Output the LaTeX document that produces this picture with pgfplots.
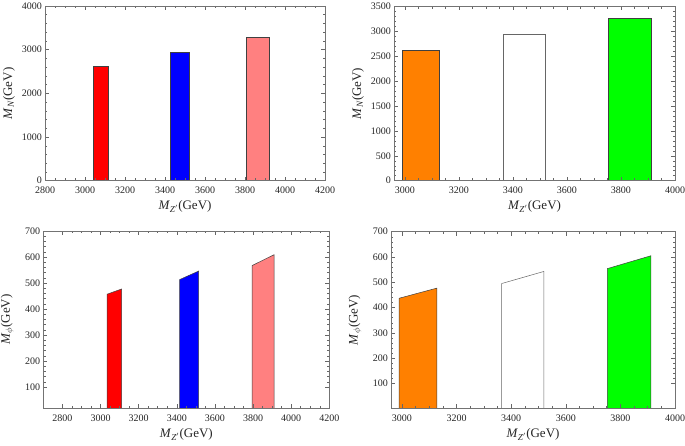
\documentclass[border=0pt]{standalone}
\usepackage{fontspec}
\setmainfont{Liberation Serif}
\usepackage{pgfplots}
\pgfplotsset{compat=1.18}
\definecolor{pinkbar}{RGB}{255,128,128}
\definecolor{orangebar}{RGB}{255,128,0}
\definecolor{greenbar}{RGB}{0,255,0}
\pgfplotsset{
  mma/.style={
    scale only axis, anchor=south west,
    axis line style={black!55, line width=0.6bp},
    tick style={black!60, line width=0.5bp},
    major tick length=4bp, minor tick length=2.2bp,
    tick align=inside,
    axis on top,
    clip=true,
    scaled ticks=false,
    tick label style={font=\fontsize{10bp}{12bp}\selectfont, text=black!85, inner sep=0bp},
    x tick label style={yshift=-6bp},
    y tick label style={xshift=-3bp},
    /pgf/number format/assume math mode=true,
    /pgf/number format/1000 sep={},
    label style={font=\fontsize{13bp}{15bp}\selectfont, text=black!85},
    xlabel style={at={([yshift=-26bp]axis description cs:0.5,0)}, anchor=center},
    ylabel style={at={([xshift=-36bp]axis description cs:0,0.5)}, anchor=center, rotate=0},
    minor x tick num=3, minor y tick num=4,
  },
  bar/.style={draw=black!75, line width=0.5bp},
}
\begin{document}
\begin{tikzpicture}
\useasboundingbox (0,0) rectangle (685bp,446bp);
% top-left
\begin{axis}[mma, at={(45bp,265.3bp)}, width=280bp, height=174.7bp,
  xmin=2800, xmax=4200, ymin=0, ymax=4000,
  xtick={2800,3000,...,4200}, ytick={0,1000,...,4000},
  xlabel={\textit{M}\textsubscript{\textit{Z}$'$}(GeV)},
  ylabel={\textit{M}\textsubscript{\textit{N}}(GeV)}]
\addplot[bar, fill=red] coordinates {(3040,0) (3040,2620) (3116,2620) (3116,0)} -- cycle;
\addplot[bar, fill=blue] coordinates {(3425,0) (3425,2950) (3522,2950) (3522,0)} -- cycle;
\addplot[bar, fill=pinkbar] coordinates {(3808,0) (3808,3290) (3922,3290) (3922,0)} -- cycle;
\end{axis}
% top-right
\begin{axis}[mma, at={(394bp,265.3bp)}, width=281bp, height=174.3bp,
  xmin=2960, xmax=4000, ymin=0, ymax=3500,
  xtick={3000,3200,...,4000}, ytick={0,500,...,3500},
  xlabel={\textit{M}\textsubscript{\textit{Z}$'$}(GeV)},
  ylabel={\textit{M}\textsubscript{\textit{N}}(GeV)}]
\addplot[bar, fill=orangebar] coordinates {(2990,0) (2990,2620) (3128,2620) (3128,0)} -- cycle;
\addplot[bar, fill=white, draw=black!60] coordinates {(3365,0) (3365,2945) (3520,2945) (3520,0)} -- cycle;
\addplot[bar, fill=greenbar] coordinates {(3752,0) (3752,3258) (3912,3258) (3912,0)} -- cycle;
\end{axis}
% bottom-left
\begin{axis}[mma, at={(43.3bp,37.7bp)}, width=286bp, height=177.3bp,
  xmin=2700, xmax=4200, ymin=18, ymax=700,
  xtick={2800,3000,...,4200}, ytick={100,200,...,700},
  xlabel={\textit{M}\textsubscript{\textit{Z}$'$}(GeV)},
  ylabel={\textit{M}\textsubscript{$\phi$}(GeV)}]
\addplot[bar, fill=red] coordinates {(3035,0) (3035,457) (3111,477) (3111,0)} -- cycle;
\addplot[bar, fill=blue] coordinates {(3415,0) (3415,513) (3515,546) (3515,0)} -- cycle;
\addplot[bar, fill=pinkbar] coordinates {(3795,0) (3795,567) (3911,609) (3911,0)} -- cycle;
\end{axis}
% bottom-right
\begin{axis}[mma, at={(391bp,37.7bp)}, width=284bp, height=176.6bp,
  xmin=2960, xmax=4000, ymin=2, ymax=700,
  xtick={3000,3200,...,4000}, ytick={100,200,...,700},
  xlabel={\textit{M}\textsubscript{\textit{Z}$'$}(GeV)},
  ylabel={\textit{M}\textsubscript{$\phi$}(GeV)}]
\addplot[bar, fill=orangebar] coordinates {(2990,0) (2990,437) (3128,477) (3128,0)} -- cycle;
\addplot[bar, fill=white, draw=black!60] coordinates {(3365,0) (3365,495) (3520,543) (3520,0)} -- cycle;
\addplot[bar, fill=greenbar] coordinates {(3752,0) (3752,554) (3912,605) (3912,0)} -- cycle;
\end{axis}
\end{tikzpicture}
\end{document}
